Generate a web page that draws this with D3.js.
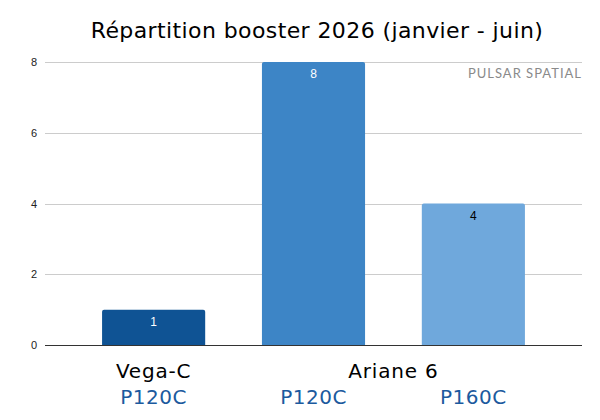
<!DOCTYPE html>
<html>
<head>
<meta charset="utf-8">
<script src="https://cdn.jsdelivr.net/npm/d3@7"></script>
<style>
    body { margin: 0; background: #fff; }
    svg text { font-family: "Liberation Sans", Arial, sans-serif; }
    .title, .cat, .sub { font-family: "DejaVu Sans", sans-serif; }
    .brand { font-family: Lato, "Noto Sans", sans-serif; }
</style>
</head>
<body>
<div id="chart"></div>
<script>
"use strict"

/* DATA
 */
const boosters = ["P120C", "P120C", "P160C"];
const launchers = ["Vega-C", "Ariane 6", "Ariane 6"];
const counts = [1, 8, 4];
const yTicks = [0, 2, 4, 6, 8];

const barColors = ["#0f5394", "#3d85c6", "#6fa8dc"];
const labelColors = ["#ffffff", "#ffffff", "#000000"];

/* CHART
 */
const width = 600, height = 420;
const margin = { left: 45, right: 18, top: 62, bottom: 75 };

const svg = d3.select("#chart").append("svg")
    .attr("width", width)
    .attr("height", height);

const idx = d3.range(counts.length);

const x = d3.scaleBand()
    .domain(idx)
    .range([margin.left, width - margin.right])
    .paddingInner(0.355)
    .paddingOuter(0.357);

const y = d3.scaleLinear()
    .domain([0, 8])
    .range([height - margin.bottom, margin.top]);

// gridlines
svg.append("g")
    .selectAll("line")
    .data(yTicks.filter((d) => d > 0))
    .enter().append("line")
    .attr("x1", margin.left)
    .attr("x2", width - margin.right)
    .attr("y1", (d) => Math.round(y(d)) + 0.5)
    .attr("y2", (d) => Math.round(y(d)) + 0.5)
    .attr("stroke", "#cccccc");

// y axis labels
const yAxis = svg.append("g")
    .attr("transform", `translate(${margin.left},0)`)
    .call(d3.axisLeft(y).tickValues(yTicks).tickSize(0).tickPadding(8)
          .tickFormat(d3.format("d")));
yAxis.select(".domain").remove();
yAxis.selectAll("text")
    .attr("font-size", 11)
    .attr("font-family", "Liberation Sans, Arial, sans-serif")
    .attr("fill", "#222");

// bars (slightly rounded top corners)
const r = 2;
function barPath(i) {
    const x0 = x(i), x1 = x(i) + x.bandwidth();
    const y0 = y(0), y1 = y(counts[i]);
    return `M${x0},${y0}V${y1 + r}Q${x0},${y1} ${x0 + r},${y1}` +
        `H${x1 - r}Q${x1},${y1} ${x1},${y1 + r}V${y0}Z`;
}
svg.append("g")
    .selectAll("path")
    .data(idx)
    .enter().append("path")
    .attr("d", barPath)
    .attr("fill", (i) => barColors[i]);

// value labels
svg.append("g")
    .selectAll("text")
    .data(idx)
    .enter().append("text")
    .attr("x", (i) => x(i) + x.bandwidth() / 2)
    .attr("y", (i) => y(counts[i]) + 16)
    .attr("text-anchor", "middle")
    .attr("font-size", 12)
    .attr("fill", (i) => labelColors[i])
    .text((i) => counts[i]);

// baseline
svg.append("line")
    .attr("x1", margin.left)
    .attr("x2", width - margin.right)
    .attr("y1", Math.round(y(0)) + 0.5)
    .attr("y2", Math.round(y(0)) + 0.5)
    .attr("stroke", "#333333");

// launcher labels, centred on their group of bars
const groups = d3.groups(idx, (i) => launchers[i]);
svg.append("g")
    .selectAll("text")
    .data(groups)
    .enter().append("text")
    .attr("class", "cat")
    .attr("x", (g) => d3.mean(g[1], (i) => x(i) + x.bandwidth() / 2))
    .attr("y", y(0) + 33)
    .attr("text-anchor", "middle")
    .attr("font-size", 20)
    .attr("letter-spacing", 0.8)
    .attr("fill", "#000")
    .text((g) => g[0]);

// booster labels
svg.append("g")
    .selectAll("text")
    .data(idx)
    .enter().append("text")
    .attr("class", "sub")
    .attr("x", (i) => x(i) + x.bandwidth() / 2)
    .attr("y", y(0) + 59)
    .attr("text-anchor", "middle")
    .attr("font-size", 20)
    .attr("letter-spacing", 0.5)
    .attr("fill", "#1c5a9e")
    .text((i) => boosters[i]);

// title
svg.append("text")
    .attr("class", "title")
    .attr("x", 317)
    .attr("y", 38)
    .attr("text-anchor", "middle")
    .attr("font-size", 22)
    .attr("letter-spacing", 0.4)
    .attr("fill", "#000")
    .text("Répartition booster 2026 (janvier - juin)");

// watermark
svg.append("text")
    .attr("class", "brand")
    .attr("x", width - margin.right)
    .attr("y", 78)
    .attr("text-anchor", "end")
    .attr("font-size", 13)
    .attr("letter-spacing", 1)
    .attr("fill", "#8a8a8a")
    .text("PULSAR SPATIAL");
</script>
</body>
</html>
